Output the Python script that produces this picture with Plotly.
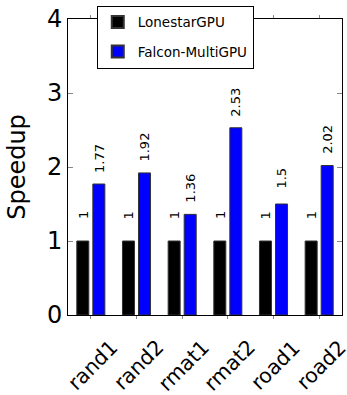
import plotly.graph_objects as go

categories = ["rand1", "rand2", "rmat1", "rmat2", "road1", "road2"]
lonestar = [1, 1, 1, 1, 1, 1]
falcon = [1.77, 1.92, 1.36, 2.53, 1.5, 2.02]
lonestar_labels = ["1", "1", "1", "1", "1", "1"]
falcon_labels = ["1.77", "1.92", "1.36", "2.53", "1.5", "2.02"]

FONT = "DejaVu Sans"
xs = list(range(len(categories)))
fig = go.Figure()
fig.add_trace(go.Bar(x=xs, y=lonestar, name="LonestarGPU", legendgroup="a",
                     marker=dict(color="black", line=dict(color="#333", width=1)),
                     width=0.263, offset=-0.307))
fig.add_trace(go.Bar(x=xs, y=falcon, name="Falcon-MultiGPU", legendgroup="b",
                     marker=dict(color="#0000ff", line=dict(color="#333", width=1)),
                     width=0.263, offset=0.044))

ann = []
for i in xs:
    ann.append(dict(x=i - 0.307 + 0.1315, y=lonestar[i] + 0.35, text=lonestar_labels[i], textangle=-90,
                    showarrow=False, xanchor="center", yanchor="middle", font=dict(size=13, color="black", family=FONT)))
    ann.append(dict(x=i + 0.044 + 0.1315, y=falcon[i] + 0.35, text=falcon_labels[i], textangle=-90,
                    showarrow=False, xanchor="center", yanchor="middle", font=dict(size=13, color="black", family=FONT)))
    # category labels (rotated, centred under tick like the reference)
    ann.append(dict(x=i + 0.05, xref="x", y=-0.17, yref="paper", text=categories[i], textangle=-45,
                    showarrow=False, xanchor="center", yanchor="middle", font=dict(size=20.5, color="black", family=FONT)))

fig.update_layout(
    width=347, height=395,
    margin=dict(l=68, r=5, t=19, b=80, autoexpand=False),
    plot_bgcolor="white", paper_bgcolor="white",
    font=dict(family=FONT, color="black"),
    barmode="group",
    annotations=ann,
    showlegend=True,
    legend=dict(x=0.105, y=1.045, xanchor="left", yanchor="top", bgcolor="white",
                bordercolor="black", borderwidth=1, font=dict(size=13.5, family=FONT),
                itemsizing="constant", tracegroupgap=9, traceorder="grouped"),
    xaxis=dict(range=[-0.5, 5.5], tickmode="array", tickvals=xs, ticktext=[""] * len(xs),
               showline=True, linecolor="black", linewidth=1,
               mirror="ticks", ticks="outside", ticklen=3, tickcolor="#888", showgrid=False, zeroline=False),
    yaxis=dict(range=[0, 4], dtick=1, tickfont=dict(size=24), showline=True, linecolor="black", linewidth=1,
               mirror="ticks", ticks="inside", ticklen=5, tickcolor="#888", showgrid=False, zeroline=False,
               title=dict(text="Speedup", font=dict(size=24), standoff=14)),
)
fig.write_html("out.html", config={"displayModeBar": False},
               post_script="document.body.style.margin='0';")
